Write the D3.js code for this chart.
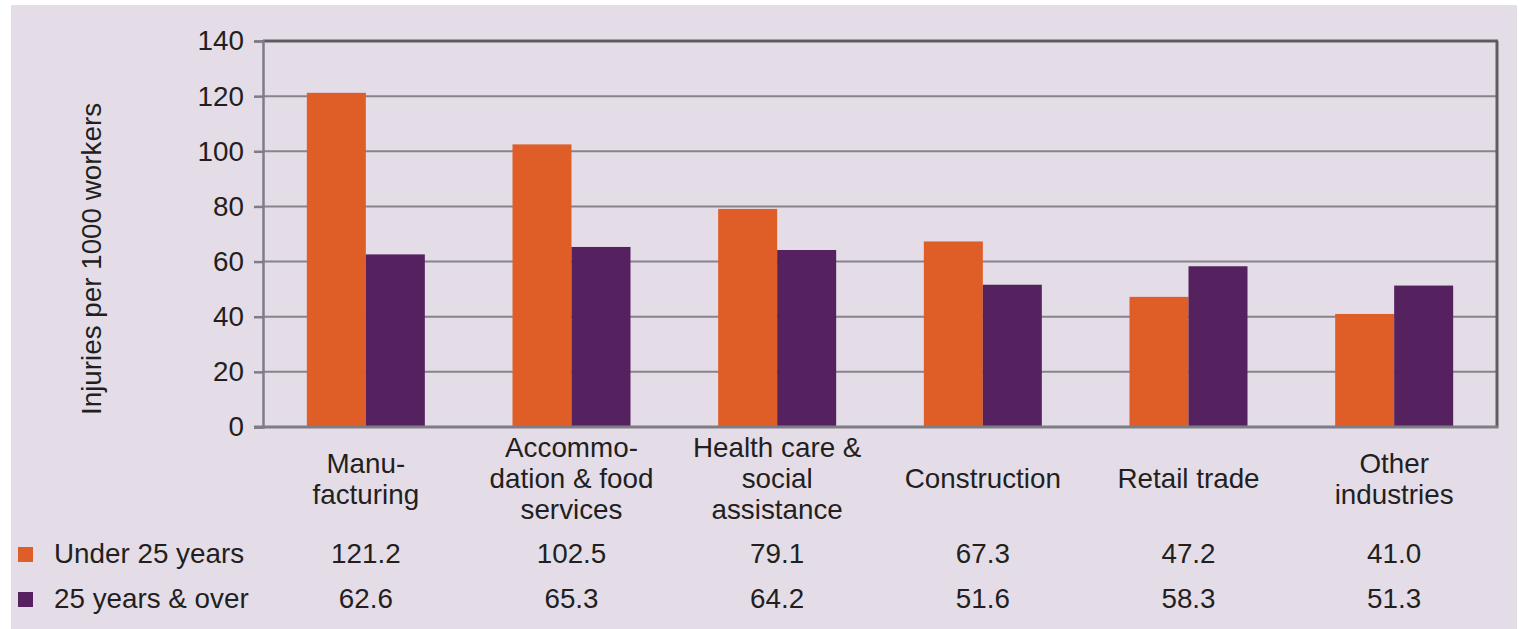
<!DOCTYPE html>
<html>
<head>
<meta charset="utf-8">
<script src="https://cdn.jsdelivr.net/npm/d3@7"></script>
<style>
  html, body { margin: 0; padding: 0; background: #ffffff; }
  svg { display: block; font-family: "Liberation Sans", Arial, sans-serif; }
</style>
</head>
<body>
<svg id="chart" width="1519" height="629"></svg>
<script>
const categories = [
  ["Manu-", "facturing"],
  ["Accommo-", "dation & food", "services"],
  ["Health care &", "social", "assistance"],
  ["Construction"],
  ["Retail trade"],
  ["Other", "industries"]
];
const seriesNames = ["Under 25 years", "25 years & over"];
const under25 = [121.2, 102.5, 79.1, 67.3, 47.2, 41.0];
const over25 = [62.6, 65.3, 64.2, 51.6, 58.3, 51.3];
const yTicks = [0, 20, 40, 60, 80, 100, 120, 140];
const colors = ["#DF5E27", "#56215F"];
const yLabel = "Injuries per 1000 workers";

const svg = d3.select("#chart");
const W = 1519, H = 629;
const plot = { left: 263, right: 1497, top: 41, bottom: 427 };
const FS = 27.8;

svg.append("rect").attr("x", 11).attr("y", 5).attr("width", 1506).attr("height", H - 5)
  .attr("fill", "#E4DDE8");

const idx = categories.map((d, i) => i);
const x0 = d3.scaleBand().domain(idx).range([plot.left, plot.right]).paddingInner(0).paddingOuter(0);
const barW = 59;
const x1 = d3.scaleBand().domain([0, 1]).range([-barW, barW]);
const y = d3.scaleLinear().domain([0, 140]).range([plot.bottom, plot.top]);

// gridlines
svg.append("g").selectAll("line").data(yTicks.filter(t => t > 0 && t < 140)).join("line")
  .attr("x1", plot.left).attr("x2", plot.right)
  .attr("y1", d => y(d)).attr("y2", d => y(d))
  .attr("stroke", "#86838A").attr("stroke-width", 2);

// bars
const series = [under25, over25];
const g = svg.append("g");
series.forEach((vals, s) => {
  g.selectAll(".b" + s).data(vals).join("rect")
    .attr("x", (d, i) => x0(i) + x0.bandwidth() / 2 + x1(s))
    .attr("width", x1.bandwidth())
    .attr("y", d => y(d))
    .attr("height", d => y(0) - y(d))
    .attr("fill", colors[s]);
});

// frame top & right
svg.append("line").attr("x1", plot.left).attr("x2", plot.right + 1)
  .attr("y1", y(140)).attr("y2", y(140)).attr("stroke", "#5E5C62").attr("stroke-width", 3);
svg.append("line").attr("x1", plot.right).attr("x2", plot.right)
  .attr("y1", y(140)).attr("y2", y(0)).attr("stroke", "#5E5C62").attr("stroke-width", 3);

// y axis
const yAxis = d3.axisLeft(y).tickValues(yTicks).tickSize(9).tickPadding(10).tickFormat(d3.format("d"));
const ya = svg.append("g").attr("transform", `translate(${plot.left},0)`).call(yAxis);
ya.select(".domain").attr("stroke", "#7E7C84").attr("stroke-width", 2.5);
ya.selectAll(".tick line").attr("stroke", "#7E7C84").attr("stroke-width", 2.5);
ya.selectAll(".tick text").attr("font-size", FS).attr("fill", "#231F20")
  .attr("font-family", "Liberation Sans, Arial, sans-serif");

// x axis line
svg.append("line").attr("x1", plot.left - 9).attr("x2", plot.right + 1.5)
  .attr("y1", y(0)).attr("y2", y(0)).attr("stroke", "#7E7C84").attr("stroke-width", 3);

// y label
svg.append("text").attr("transform", `translate(101,${(105 + 413) / 2}) rotate(-90)`)
  .attr("text-anchor", "middle").attr("font-size", FS).attr("fill", "#231F20").text(yLabel);

// category labels
const lineH = 31;
categories.forEach((lines, i) => {
  const cx = x0(i) + x0.bandwidth() / 2;
  const t = svg.append("text").attr("text-anchor", "middle").attr("font-size", FS).attr("fill", "#231F20");
  const first = 488 - (lines.length - 1) * lineH / 2;
  lines.forEach((ln, k) => {
    t.append("tspan").attr("x", cx).attr("y", first + k * lineH).text(ln);
  });
});

// data table rows
const rowY = [563, 608];
series.forEach((vals, s) => {
  svg.append("rect").attr("x", 18).attr("y", rowY[s] - 16).attr("width", 15).attr("height", 15)
    .attr("fill", colors[s]);
  svg.append("text").attr("x", 54).attr("y", rowY[s]).attr("font-size", FS).attr("fill", "#231F20")
    .text(seriesNames[s]);
  svg.append("g").selectAll("text").data(vals).join("text")
    .attr("x", (d, i) => x0(i) + x0.bandwidth() / 2)
    .attr("y", rowY[s]).attr("text-anchor", "middle").attr("font-size", FS).attr("fill", "#231F20")
    .text(d => d.toFixed(1));
});
</script>
</body>
</html>
